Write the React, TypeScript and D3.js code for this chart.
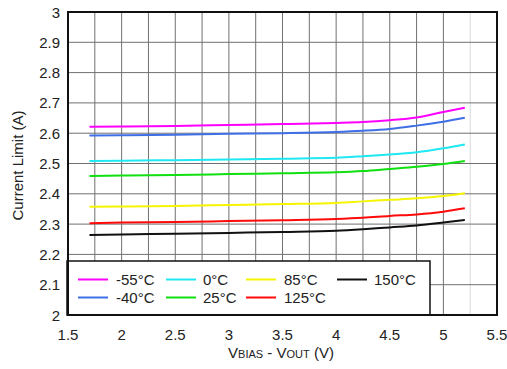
import React from "react";
import * as d3 from "d3";

const xValues = [1.7, 2.0, 2.5, 3.0, 3.5, 4.0, 4.25, 4.5, 4.75, 5.0, 5.2];
const seriesNames = ["-55°C", "-40°C", "0°C", "25°C", "85°C", "125°C", "150°C"];
const seriesColors = ["#ff00ff", "#3f6fe6", "#1fe8f2", "#10e010", "#f5f500", "#ff0a0a", "#111111"];
const sM55 = [2.621, 2.622, 2.624, 2.627, 2.630, 2.634, 2.637, 2.643, 2.652, 2.670, 2.684];
const sM40 = [2.592, 2.593, 2.595, 2.598, 2.600, 2.604, 2.608, 2.614, 2.625, 2.638, 2.651];
const s0 = [2.508, 2.509, 2.511, 2.513, 2.516, 2.519, 2.524, 2.530, 2.537, 2.550, 2.563];
const s25 = [2.459, 2.460, 2.462, 2.465, 2.468, 2.471, 2.475, 2.482, 2.489, 2.498, 2.508];
const s85 = [2.357, 2.358, 2.360, 2.363, 2.366, 2.370, 2.375, 2.380, 2.385, 2.393, 2.402];
const s125 = [2.303, 2.305, 2.307, 2.310, 2.313, 2.317, 2.321, 2.327, 2.332, 2.341, 2.352];
const s150 = [2.264, 2.266, 2.268, 2.271, 2.274, 2.278, 2.283, 2.289, 2.295, 2.305, 2.314];
const allSeries = [sM55, sM40, s0, s25, s85, s125, s150];
const xTicks = [1.5, 2, 2.5, 3, 3.5, 4, 4.5, 5, 5.5];
const yTicks = [2, 2.1, 2.2, 2.3, 2.4, 2.5, 2.6, 2.7, 2.8, 2.9, 3];

const W = 507, H = 369;
const L = 68, R = 497, T = 12, B = 315;
const font = "'Liberation Sans', Arial, sans-serif";

export default function App() {
  const x = d3.scaleLinear().domain([1.5, 5.5]).range([L, R]);
  const y = d3.scaleLinear().domain([2, 3]).range([B, T]);
  const line = d3.line<[number, number]>().x(d => x(d[0])).y(d => y(d[1])).curve(d3.curveMonotoneX);
  const vGrid = d3.range(1.75, 5.5, 0.25);
  const legendCols = [
    { lx: 78, tx: 116 },
    { lx: 166, tx: 203 },
    { lx: 246, tx: 284 },
    { lx: 337, tx: 374 },
  ];
  const legendRows = [279.5, 297.5];
  const legendOrder = [
    [0, 0, 0], [1, 0, 1], [2, 1, 0], [3, 1, 1], [4, 2, 0], [5, 2, 1], [6, 3, 0],
  ];
  return (
    <svg width={W} height={H} style={{ position: "absolute", left: 0, top: 0, background: "#fff" }} fontFamily={font}>
      <rect x={0} y={0} width={W} height={H} fill="#fff" />
      {vGrid.map((v, i) => (
        <line key={"v" + i} x1={x(v)} x2={x(v)} y1={T} y2={B} stroke={Math.abs(v - 5.25) < 1e-6 ? "#d8d8d8" : "#707070"} strokeWidth={1} />
      ))}
      {yTicks.slice(1, -1).map((v, i) => (
        <line key={"h" + i} x1={L} x2={R} y1={y(v)} y2={y(v)} stroke="#707070" strokeWidth={1} />
      ))}
      {allSeries.map((s, i) => (
        <path key={"s" + i} d={line(xValues.map((xv, j) => [xv, s[j]] as [number, number])) || ""} fill="none" stroke={seriesColors[i]} strokeWidth={2} />
      ))}
      <rect x={67} y={261} width={363} height={54} fill="#fff" stroke="#111" strokeWidth={1.5} />
      {legendOrder.map(([si, c, r]) => (
        <g key={"lg" + si}>
          <line x1={legendCols[c].lx} x2={legendCols[c].lx + 30} y1={legendRows[r]} y2={legendRows[r]} stroke={seriesColors[si]} strokeWidth={2} />
          <text x={legendCols[c].tx} y={legendRows[r] + 5.5} fontSize={15} fill="#222">{seriesNames[si]}</text>
        </g>
      ))}
      <rect x={L} y={T} width={R - L} height={B - T} fill="none" stroke="#111" strokeWidth={2} />
      {yTicks.map((v, i) => (
        <text key={"yt" + i} x={60} y={y(v) + 5.5} textAnchor="end" fontSize={15} fill="#222">{v === 2 || v === 3 ? String(v) : v.toFixed(1)}</text>
      ))}
      {xTicks.map((v, i) => (
        <text key={"xt" + i} x={x(v)} y={340} textAnchor="middle" fontSize={15} fill="#222">{String(v)}</text>
      ))}
      <text x={281} y={358} textAnchor="middle" fontSize={15} fill="#222">
        V<tspan fontSize={11}>BIAS</tspan> - V<tspan fontSize={11}>OUT</tspan> (V)
      </text>
      <text transform={`translate(23,${(T + B) / 2 + 2}) rotate(-90)`} textAnchor="middle" fontSize={15} fill="#222">Current Limit (A)</text>
    </svg>
  );
}
